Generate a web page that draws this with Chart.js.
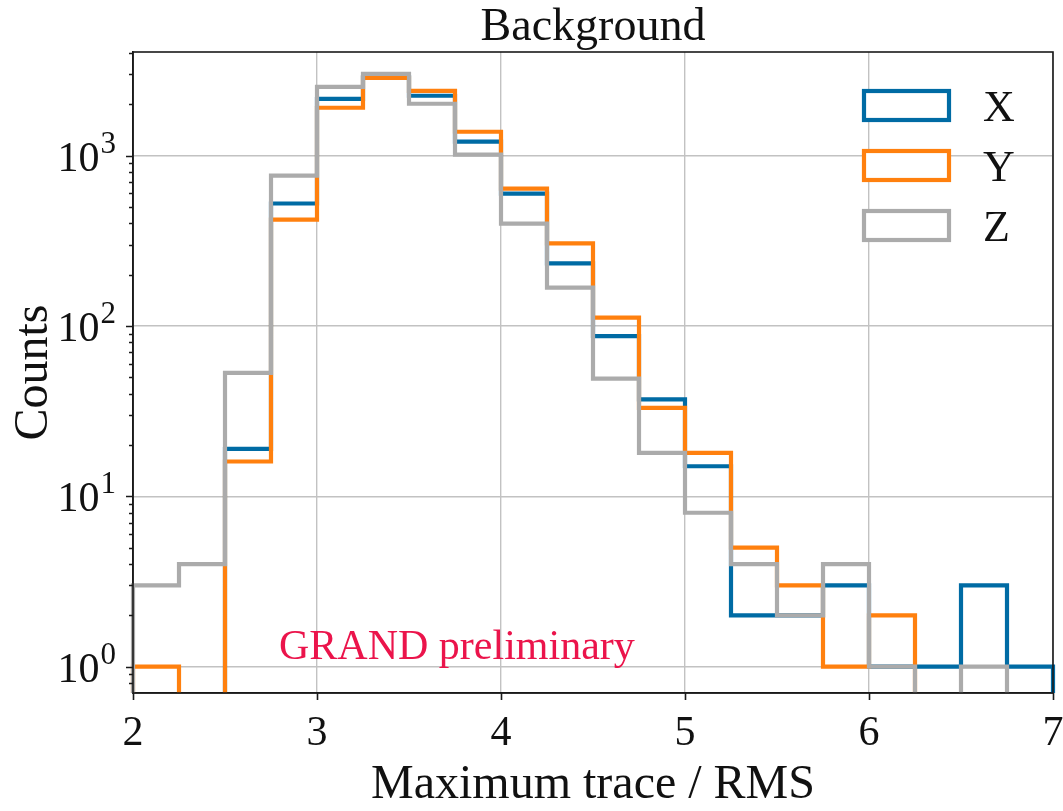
<!DOCTYPE html>
<html>
<head>
<meta charset="utf-8">
<script src="https://cdn.jsdelivr.net/npm/chart.js@4/dist/chart.umd.min.js"></script>
<style>
html,body{margin:0;padding:0;background:#fff;}
#wrap{width:1063px;height:811px;position:relative;}
canvas{display:block;}
</style>
</head>
<body>
<div id="wrap"><canvas id="c" width="1063" height="811"></canvas></div>
<script>
// ---------- data ----------
const binEdges = [2.0, 2.25, 2.5, 2.75, 3.0, 3.25, 3.5, 3.75, 4.0, 4.25, 4.5, 4.75, 5.0, 5.25, 5.5, 5.75, 6.0, 6.25, 6.5, 6.75, 7.0];
const countsX = [0, 0, 19, 523, 2153, 2900, 2244, 1206, 598, 233, 87, 37, 15, 2, 2, 3, 1, 1, 3, 1];
const countsY = [1, 0, 16, 421, 1909, 2860, 2399, 1380, 640, 305, 112, 33, 18, 5, 3, 1, 2, 0, 0, 0];
const countsZ = [3, 4, 53, 762, 2533, 3020, 2014, 1012, 399, 168, 49, 18, 8, 4, 2, 4, 1, 0, 1, 0];
const seriesNames = ['X', 'Y', 'Z'];
const xTickValues = [2, 3, 4, 5, 6, 7];
const xTickLabels = ['2', '3', '4', '5', '6', '7'];
const yMajorTicks = [1, 10, 100, 1000];
const yTickBase = '10';
const yTickExponents = ['0', '1', '2', '3'];
const chartTitle = 'Background';
const xAxisLabel = 'Maximum trace / RMS';
const yAxisLabel = 'Counts';
const watermarkText = 'GRAND preliminary';

// ---------- style ----------
const colors = ['#006BA4', '#FF800E', '#ABABAB'];
const FONT = "'Liberation Serif', 'Times New Roman', serif";
const Y_MIN = 0.704, Y_MAX = 4055;
const FLOOR = 0.01; // empty bins drop below the axis (clipped)

function stepPoints(counts) {
  const n = counts.length;
  const pts = [{x: binEdges[0], y: FLOOR}];
  for (let i = 0; i < n; i++) {
    pts.push({x: binEdges[i], y: counts[i] > 0 ? counts[i] : FLOOR});
    pts.push({x: binEdges[i + 1], y: counts[i] > 0 ? counts[i] : FLOOR});
  }
  pts.push({x: binEdges[n], y: FLOOR});
  return pts;
}

const allCounts = [countsX, countsY, countsZ];
const datasets = allCounts.map((c, i) => ({
  label: seriesNames[i],
  data: stepPoints(c),
  borderColor: colors[i],
  backgroundColor: colors[i],
  borderWidth: 4.2,
  fill: false,
  pointRadius: 0,
  pointHoverRadius: 0,
  tension: 0,
  borderJoinStyle: 'miter',
  borderCapStyle: 'butt',
  order: 2 - i,
  clip: {left: 3, right: 3, top: 3, bottom: 0}
}));

const decorPlugin = {
  id: 'decor',
  afterDatasetsDraw(chart) {
    const ctx = chart.ctx;
    const a = chart.chartArea;
    const xs = chart.scales.x, ys = chart.scales.y;
    ctx.save();
    // watermark
    ctx.fillStyle = '#EB144B';
    ctx.font = '42px ' + FONT;
    ctx.textAlign = 'left';
    ctx.textBaseline = 'alphabetic';
    ctx.fillText(watermarkText, 279, 659);
    // spines
    ctx.strokeStyle = '#1a1a1a';
    ctx.lineWidth = 1.6;
    ctx.strokeRect(a.left, a.top, a.right - a.left, a.bottom - a.top);
    // tick marks
    ctx.beginPath();
    xTickValues.forEach(v => {
      const px = Math.round(xs.getPixelForValue(v)) + 0.5;
      ctx.moveTo(px, a.bottom);
      ctx.lineTo(px, a.bottom + 7);
    });
    for (let e = -1; e <= 3; e++) {
      for (let m = 1; m <= 9; m++) {
        const v = m * Math.pow(10, e);
        if (v < Y_MIN || v > Y_MAX) continue;
        const py = Math.round(ys.getPixelForValue(v)) + 0.5;
        const len = (m === 1) ? 7 : 4;
        ctx.moveTo(a.left, py);
        ctx.lineTo(a.left - len, py);
      }
    }
    ctx.stroke();
    // x tick labels
    ctx.fillStyle = '#111';
    ctx.textBaseline = 'alphabetic';
    ctx.font = '42px ' + FONT;
    ctx.textAlign = 'center';
    xTickValues.forEach((v, k) => {
      ctx.fillText(xTickLabels[k], xs.getPixelForValue(v), 745);
    });
    // y tick labels: 10^n
    yMajorTicks.forEach((v, k) => {
      const py = ys.getPixelForValue(v);
      ctx.font = '31px ' + FONT;
      const ew = ctx.measureText(yTickExponents[k]).width;
      ctx.textAlign = 'right';
      ctx.fillText(yTickExponents[k], 116, py - 3);
      ctx.font = '42px ' + FONT;
      ctx.fillText(yTickBase, 116 - ew - 1, py + 15);
    });
    // legend
    const legTops = [91, 151, 211];
    const legBase = [121, 181, 241];
    ctx.lineJoin = 'miter';
    seriesNames.forEach((name, i) => {
      ctx.strokeStyle = colors[i];
      ctx.lineWidth = 4.2;
      ctx.fillStyle = '#ffffff';
      ctx.fillRect(864, legTops[i], 85, 29);
      ctx.strokeRect(864, legTops[i], 85, 29);
      ctx.fillStyle = '#111';
      ctx.font = '44px ' + FONT;
      ctx.textAlign = 'left';
      ctx.textBaseline = 'alphabetic';
      ctx.fillText(name, 983, legBase[i]);
    });
    ctx.restore();
  }
};

new Chart(document.getElementById('c'), {
  type: 'line',
  data: {datasets},
  options: {
    responsive: false,
    devicePixelRatio: 1,
    animation: false,
    events: [],
    layout: {padding: {left: 0, right: 10, top: 0, bottom: 0}},
    plugins: {
      legend: {display: false},
      tooltip: {enabled: false},
      title: {
        display: true,
        text: chartTitle,
        fullSize: false,
        color: '#111',
        font: {family: FONT, size: 46, weight: 'normal', lineHeight: 1},
        padding: {top: 5, bottom: 1}
      }
    },
    scales: {
      x: {
        type: 'linear',
        min: 2, max: 7,
        afterBuildTicks: s => { s.ticks = xTickValues.map(v => ({value: v})); },
        afterFit: s => { s.height = 118; s.paddingLeft = 0; s.paddingRight = 0; },
        ticks: {display: false},
        grid: {color: '#c2c2c2', lineWidth: 1.4, drawTicks: false},
        border: {display: true, color: '#1a1a1a', width: 1.6},
        title: {
          display: true, text: xAxisLabel, color: '#111',
          font: {family: FONT, size: 48, lineHeight: 1},
          padding: {top: 0, bottom: 2}
        }
      },
      y: {
        type: 'logarithmic',
        min: Y_MIN, max: Y_MAX,
        afterBuildTicks: s => { s.ticks = yMajorTicks.map(v => ({value: v})); },
        afterFit: s => { s.width = 133; s.paddingTop = 0; s.paddingBottom = 0; },
        ticks: {display: false},
        grid: {color: '#c2c2c2', lineWidth: 1.4, drawTicks: false},
        border: {display: true, color: '#1a1a1a', width: 1.6},
        title: {
          display: true, text: yAxisLabel, color: '#111',
          font: {family: FONT, size: 48, lineHeight: 1},
          padding: {top: 10, bottom: 0}
        }
      }
    }
  },
  plugins: [decorPlugin]
});
</script>
</body>
</html>
